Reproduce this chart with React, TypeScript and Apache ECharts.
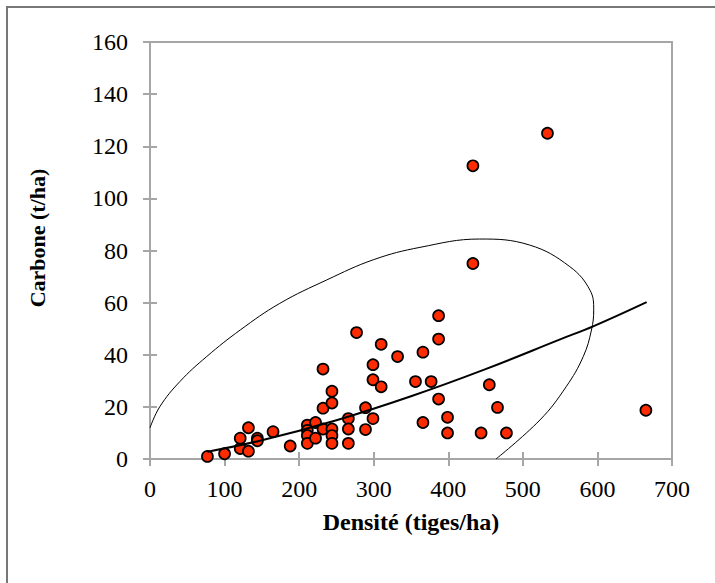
import React, { useEffect, useRef } from "react";
import * as echarts from "echarts";

// Scatter: density (stems/ha) vs carbon (t/ha)
const densite: number[] = [
  77, 100, 121, 121, 132, 132, 144, 144, 165, 188,
  211, 211, 211, 211, 222, 222, 232, 232, 232, 244,
  244, 244, 244, 244, 266, 266, 266, 277, 289, 289,
  299, 299, 299, 310, 310, 332, 356, 366, 366, 377,
  387, 387, 387, 399, 399, 433, 433, 444, 455, 466,
  478, 533, 665,
];
const carbone: number[] = [
  1, 2, 4, 8, 3, 12, 8, 7, 10.5, 5,
  13, 11, 9, 6, 14, 8, 34.5, 19.5, 11.5, 26,
  21.5, 11.5, 9, 6, 15.5, 11.5, 6, 48.5, 19.7, 11.3,
  36.2, 30.4, 15.5, 44, 27.7, 39.3, 29.7, 41, 14, 29.7,
  55, 46, 23, 16, 10, 112.5, 75, 10, 28.5, 19.8,
  10, 125, 18.7,
];

// Trend line
const trendX: number[] = [77, 150, 250, 350, 450, 550, 595, 666];
const trendY: number[] = [2.8, 7.2, 14.9, 24.1, 34.5, 45.9, 51, 60.2];

// Confidence ellipse outline (visible part)
const ellX: number[] = [0, 13, 40, 76, 121, 174, 237, 300, 362, 442, 509, 563, 590, 595, 592, 581, 558, 523, 464];
const ellY: number[] = [12, 20, 29.7, 39.3, 49.5, 59.7, 68.7, 76.5, 81.2, 84.4, 82.1, 73.8, 64.8, 57.2, 49.5, 39.3, 27.7, 15, 0];

const xTicks = { min: 0, max: 700, interval: 100 };
const yTicks = { min: 0, max: 160, interval: 20 };

const xTitle = "Densité (tiges/ha)";
const yTitle = "Carbone (t/ha)";

const FONT = "'Liberation Serif', 'Times New Roman', serif";
const AXIS_GRAY = "#a6a6a6";

export default function App() {
  const ref = useRef<HTMLDivElement>(null);

  useEffect(() => {
    if (!ref.current) return;
    const chart = echarts.init(ref.current, undefined, { renderer: "svg" });

    const gridPos = { left: 150, right: 43, top: 42, bottom: 124 };

    const option: any = {
      animation: false,
      backgroundColor: "#ffffff",
      graphic: [
        {
          type: "rect",
          shape: { x: 7, y: 7, width: 760, height: 640 },
          style: { fill: "none", stroke: "#777777", lineWidth: 2 },
          z: 0,
        },
        {
          type: "text",
          x: 37,
          y: 238,
          rotation: Math.PI / 2,
          style: {
            text: yTitle,
            fontFamily: FONT,
            fontWeight: "bold",
            fontSize: 22,
            fill: "#000",
            align: "center",
            verticalAlign: "middle",
          },
        },
      ],
      grid: [
        { ...gridPos, show: true, borderColor: AXIS_GRAY, borderWidth: 2, backgroundColor: "transparent" },
        { ...gridPos, show: false },
      ],
      xAxis: [
        {
          type: "value",
          gridIndex: 0,
          ...xTicks,
          name: xTitle,
          nameLocation: "middle",
          nameGap: 51,
          nameTextStyle: { fontFamily: FONT, fontWeight: "bold", fontSize: 24, color: "#000" },
          axisLine: { show: true, onZero: false, lineStyle: { color: AXIS_GRAY, width: 2 } },
          axisTick: { show: true, inside: false, length: 7, lineStyle: { color: AXIS_GRAY, width: 2 } },
          axisLabel: { fontFamily: FONT, fontSize: 24, color: "#000", margin: 18 },
          splitLine: { show: false },
        },
        {
          type: "value",
          gridIndex: 1,
          ...xTicks,
          axisLine: { show: false, onZero: false },
          axisTick: { show: true, inside: true, length: 7, lineStyle: { color: AXIS_GRAY, width: 2 } },
          axisLabel: { show: false },
          splitLine: { show: false },
        },
      ],
      yAxis: [
        {
          type: "value",
          gridIndex: 0,
          ...yTicks,
          axisLine: { show: true, onZero: false, lineStyle: { color: AXIS_GRAY, width: 2 } },
          axisTick: { show: true, inside: false, length: 7, lineStyle: { color: AXIS_GRAY, width: 2 } },
          axisLabel: { fontFamily: FONT, fontSize: 24, color: "#000", margin: 22 },
          splitLine: { show: false },
        },
        {
          type: "value",
          gridIndex: 1,
          ...yTicks,
          axisLine: { show: false, onZero: false },
          axisTick: { show: true, inside: true, length: 7, lineStyle: { color: AXIS_GRAY, width: 2 } },
          axisLabel: { show: false },
          splitLine: { show: false },
        },
      ],
      series: [
        {
          type: "scatter",
          xAxisIndex: 0,
          yAxisIndex: 0,
          data: densite.map((d, i) => [d, carbone[i]]),
          symbol: "circle",
          symbolSize: 11,
          itemStyle: { color: "#ff2b00", borderColor: "#000000", borderWidth: 1.7, opacity: 1 },
          z: 3,
        },
        {
          type: "line",
          xAxisIndex: 0,
          yAxisIndex: 0,
          data: trendX.map((x, i) => [x, trendY[i]]),
          smooth: 0.4,
          showSymbol: false,
          symbol: "none",
          lineStyle: { color: "#000000", width: 2 },
          z: 4,
          silent: true,
        },
        {
          type: "line",
          xAxisIndex: 0,
          yAxisIndex: 0,
          data: ellX.map((x, i) => [x, ellY[i]]),
          smooth: 0.4,
          showSymbol: false,
          symbol: "none",
          clip: true,
          lineStyle: { color: "#000000", width: 1 },
          z: 4,
          silent: true,
        },
      ],
    };

    chart.setOption(option);
    return () => chart.dispose();
  }, []);

  return (
    <div
      ref={ref}
      style={{ position: "absolute", left: 0, top: 0, width: 715, height: 583, background: "#fff" }}
    />
  );
}
